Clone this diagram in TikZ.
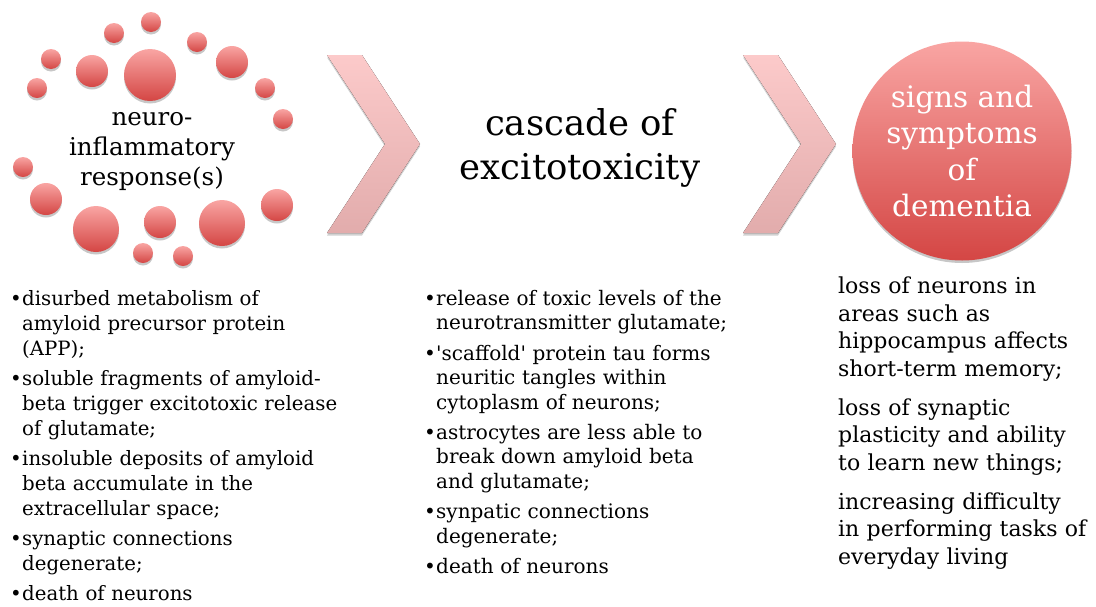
\documentclass[tikz,border=0pt]{standalone}
\usepackage{fontspec}
\setmainfont{DejaVu Serif}
\newfontfamily\rawserif{DejaVu Serif}
\usetikzlibrary{shadows}
\definecolor{dotTop}{RGB}{249,165,163}
\definecolor{dotBot}{RGB}{212,70,68}
\definecolor{chevTop}{RGB}{252,202,202}
\definecolor{chevBot}{RGB}{226,172,172}
\newcommand\bitem{\noindent\llap{\makebox[12pt][l]{•}}}
\newcommand\gap[1]{\par\vspace{#1}}
\newcommand\sq{{\rawserif\symbol{39}}}
\begin{document}
\begin{tikzpicture}[x=1pt,y=-1pt,
  dot/.style={circle, inner sep=0pt, draw=none, top color=dotTop, bottom color=dotBot,
    drop shadow={shadow xshift=0pt, shadow yshift=-2.5pt, opacity=0.22, fill=black}},
  chev/.style={top color=chevTop, bottom color=chevBot, draw=none,
    drop shadow={shadow xshift=0pt, shadow yshift=-2.5pt, opacity=0.18, fill=black}},
  title/.style={align=center, inner sep=0pt},
  listtxt/.style={anchor=north west, inner sep=0pt, align=left},
]
\useasboundingbox (0,0) rectangle (1096,606);

% cluster of circles
\foreach \n/\x/\y/\r in {1/151/22/10, 2/114/33/10, 3/197/42/10, 4/51/59/10,
  5/92/71/16, 6/150/75/26, 7/232/62/16, 8/37/88/10, 9/265/88/10, 10/283/119/10,
  11/23/167/10, 12/46/199/16, 13/96/229/23, 14/160/222/16, 15/222/223/23,
  16/277/205/16, 17/143/253/10, 18/183/256/10}
  \node[dot, minimum size=2*\r pt] (d\n) at (\x,\y) {};

\node[title, font=\fontsize{24.5}{30}\selectfont] (t1) at (152,152)
  {neuro-\\inflammatory\\response(s)};

% chevrons
\fill[chev] (327,55) -- (362,55) -- (420,144) -- (362,233) -- (327,233) -- (385,144) -- cycle;
\fill[chev] (743,55) -- (778,55) -- (836,144) -- (778,233) -- (743,233) -- (801,144) -- cycle;

\node[title, font=\fontsize{35.5}{44}\selectfont] (t2) at (580,148)
  {cascade of\\excitotoxicity};

% big circle
\node[dot, minimum size=219pt] (c3) at (962,151) {};
\node[title, text=white, font=\fontsize{29.5}{36.5}\selectfont] (t3) at (c3)
  {signs and\\symptoms\\of\\dementia};

% lists
\node[listtxt, text width=340pt, font=\fontsize{19.75}{25}\selectfont] (l1) at (10,290)
  {\leftskip=12pt
   \bitem disurbed metabolism of\\amyloid precursor protein\\(APP);\gap{5pt}%
   \bitem soluble fragments of amyloid-\\beta trigger excitotoxic release\\of glutamate;\gap{5pt}%
   \bitem insoluble deposits of amyloid\\beta accumulate in the\\extracellular space;\gap{5pt}%
   \bitem synaptic connections\\degenerate;\gap{5pt}%
   \bitem death of neurons\par};

\node[listtxt, text width=330pt, font=\fontsize{20}{24.5}\selectfont] (l2) at (424,290)
  {\leftskip=12pt
   \bitem release of toxic levels of the\\neurotransmitter glutamate;\gap{5.75pt}%
   \bitem \sq scaffold\sq{} protein tau forms\\neuritic tangles within\\cytoplasm of neurons;\gap{5.75pt}%
   \bitem astrocytes are less able to\\break down amyloid beta\\and glutamate;\gap{5.75pt}%
   \bitem synpatic connections\\degenerate;\gap{5.75pt}%
   \bitem death of neurons\par};

\node[listtxt, text width=255pt, font=\fontsize{22}{27.5}\selectfont] (l3) at (838,277)
  {loss of neurons in\\areas such as\\hippocampus affects\\short-term memory;\gap{11.5pt}%
   \noindent loss of synaptic\\plasticity and ability\\to learn new things;\gap{11.5pt}%
   \noindent increasing difficulty\\in performing tasks of\\everyday living\par};
\end{tikzpicture}
\end{document}
